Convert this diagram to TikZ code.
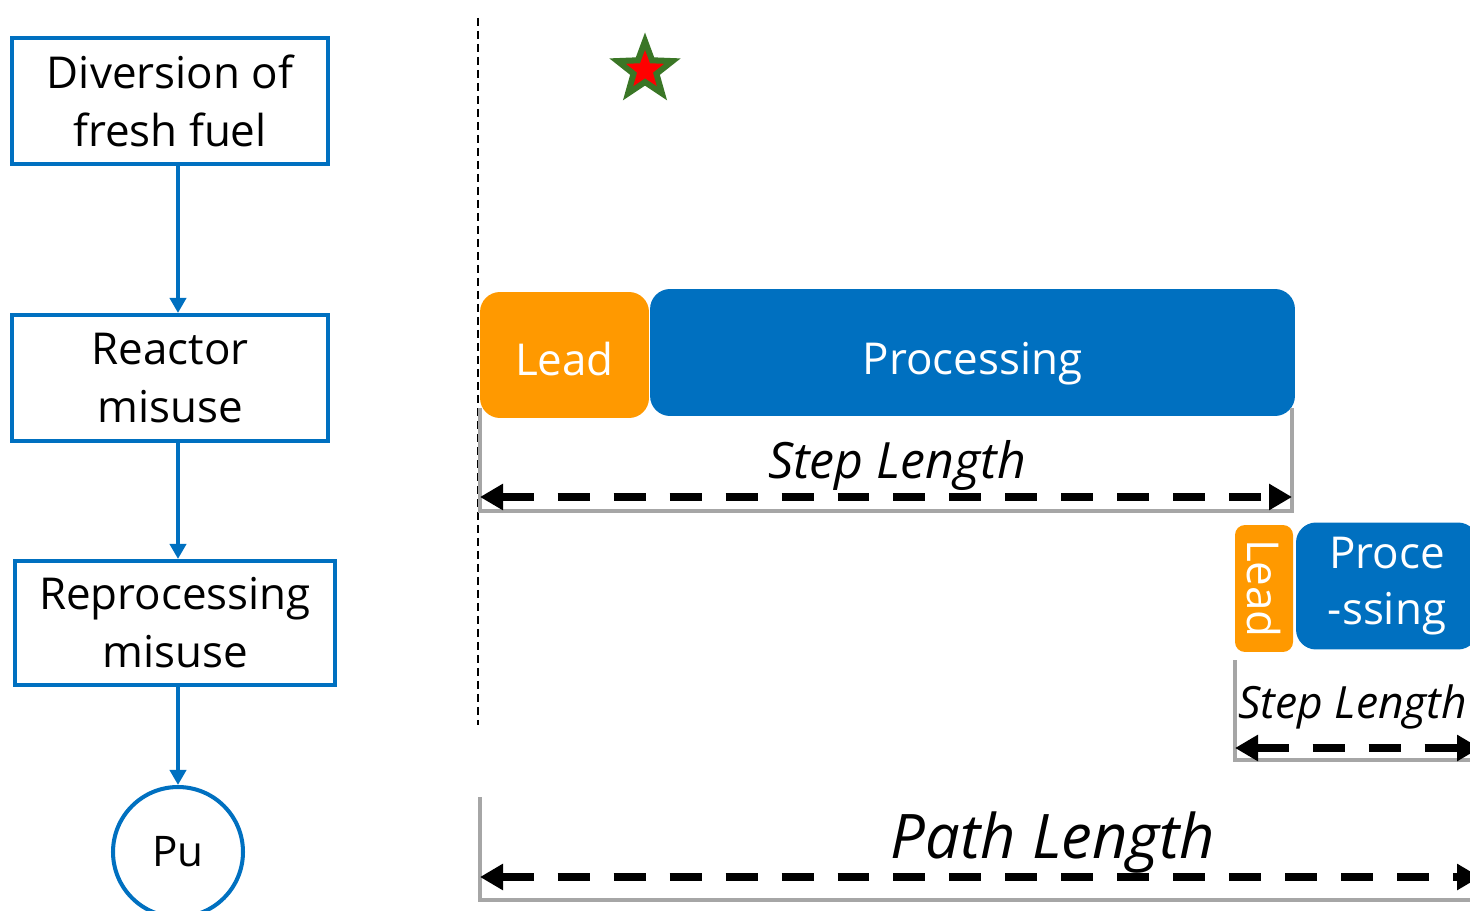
\documentclass[tikz,border=0pt]{standalone}
\usepackage{fontspec}
\setmainfont{Open Sans}
\usetikzlibrary{shapes.geometric, arrows.meta, positioning}
\definecolor{mblue}{RGB}{0,112,192}
\definecolor{morange}{RGB}{255,153,0}
\definecolor{mgray}{RGB}{166,166,166}
\definecolor{mgreen}{RGB}{58,118,38}

\begin{document}
\begin{tikzpicture}[
    x=0.02cm, y=-0.02cm,
    stepbox/.style={rectangle, draw=mblue, line width=2.3pt, align=center,
                minimum width=6.34cm, minimum height=2.52cm, inner sep=0pt,
                font=\fontsize{25}{33}\selectfont},
    flow/.style={-{Triangle[length=0.3cm, width=0.32cm]}, line width=2.3pt, mblue},
    lead/.style={rectangle, rounded corners=0.4cm, fill=morange, text=white, inner sep=0pt},
    proc/.style={rectangle, rounded corners=0.4cm, fill=mblue, text=white, inner sep=0pt},
    bracket/.style={mgray, line width=2.8pt},
    dim/.style={{Triangle[length=0.46cm, width=0.5cm]}-{Triangle[length=0.46cm, width=0.5cm]},
                line width=4pt, dash pattern=on 0.64cm off 0.48cm},
    dimlabel/.style={font=\itshape\fontsize{#1}{#1}\selectfont, inner sep=0pt},
]
    \useasboundingbox (0,0) rectangle (1470,911);
    \clip (0,0) rectangle (1470,911);

    % activity chain
    \node[stepbox] (fresh) at (170,101) {Diversion of\\fresh fuel};
    \node[stepbox] (reactor) at (170,378) {Reactor\\misuse};
    \node[stepbox, minimum width=6.4cm, minimum height=2.48cm] (reproc) at (175,623) {Reprocessing\\misuse};
    \node[circle, draw=mblue, line width=2.3pt, minimum size=2.6cm, inner sep=0pt,
          font=\fontsize{24}{28}\selectfont] (pu) at (178,852) {Pu};

    \draw[flow] (fresh.south -| pu)   -- (reactor.north -| pu);
    \draw[flow] (reactor.south -| pu) -- (reproc.north -| pu);
    \draw[flow] (reproc.south -| pu)  -- (pu.north);

    % time axis
    \draw[dashed, line width=0.8pt, dash pattern=on 0.16cm off 0.1cm] (478,18) -- (478,725);
    \node[star, star points=5, star point ratio=2.4, minimum size=1.5cm, inner sep=0pt,
          fill=mgreen] (mark1) at (645,70) {};
    \node[star, star points=5, star point ratio=2.4, minimum size=0.8cm, inner sep=0pt,
          fill=red] (mark2) at (645,70) {};

    % first step
    \node[lead, minimum width=3.38cm, minimum height=2.52cm, text height=23.5pt, text depth=0pt,
          font=\fontsize{25}{30}\selectfont] (lead1) at (564.5,355) {Lead};
    \node[proc, minimum width=12.9cm, minimum height=2.54cm, text height=25pt, text depth=0pt,
          font=\fontsize{25}{30}\selectfont] (proc1) at (972.5,352.5) {Processing};
    \draw[bracket] (480,408) -- (480,511) -- (1292,511) -- (1292,408);
    \coordinate (s1a) at (480,497);
    \coordinate (s1b) at (1292,497);
    \draw[dim] (s1a) -- (s1b);
    \node[dimlabel=28.5] (step1) at (897,465) {Step Length};

    % second step
    \node[lead, rounded corners=0.2cm, rotate=-90, minimum width=2.54cm, minimum height=1.16cm,
          font=\fontsize{25}{30}\selectfont] (lead2) at (1264,588.5) {Lead};
    \node[proc, align=center, minimum width=3.64cm, minimum height=2.54cm,
          font=\fontsize{25}{32}\selectfont] (proc2) at (1387,586) {Proce\\-ssing};
    \draw[bracket] (1235,660) -- (1235,760) -- (1500,760);
    \coordinate (s2a) at (1235,748);
    \coordinate (s2b) at (1480,748);
    \draw[dim] (s2a) -- (s2b);
    \node[dimlabel=25.3, anchor=west] (step2) at (1238,707) {Step Length};

    % whole path
    \draw[bracket] (480,797) -- (480,900) -- (1500,900);
    \coordinate (pa) at (480,877);
    \coordinate (pb) at (1480,877);
    \draw[dim] (pa) -- (pb);
    \node[dimlabel=35] (path) at (1053,843) {Path Length};
\end{tikzpicture}
\end{document}
